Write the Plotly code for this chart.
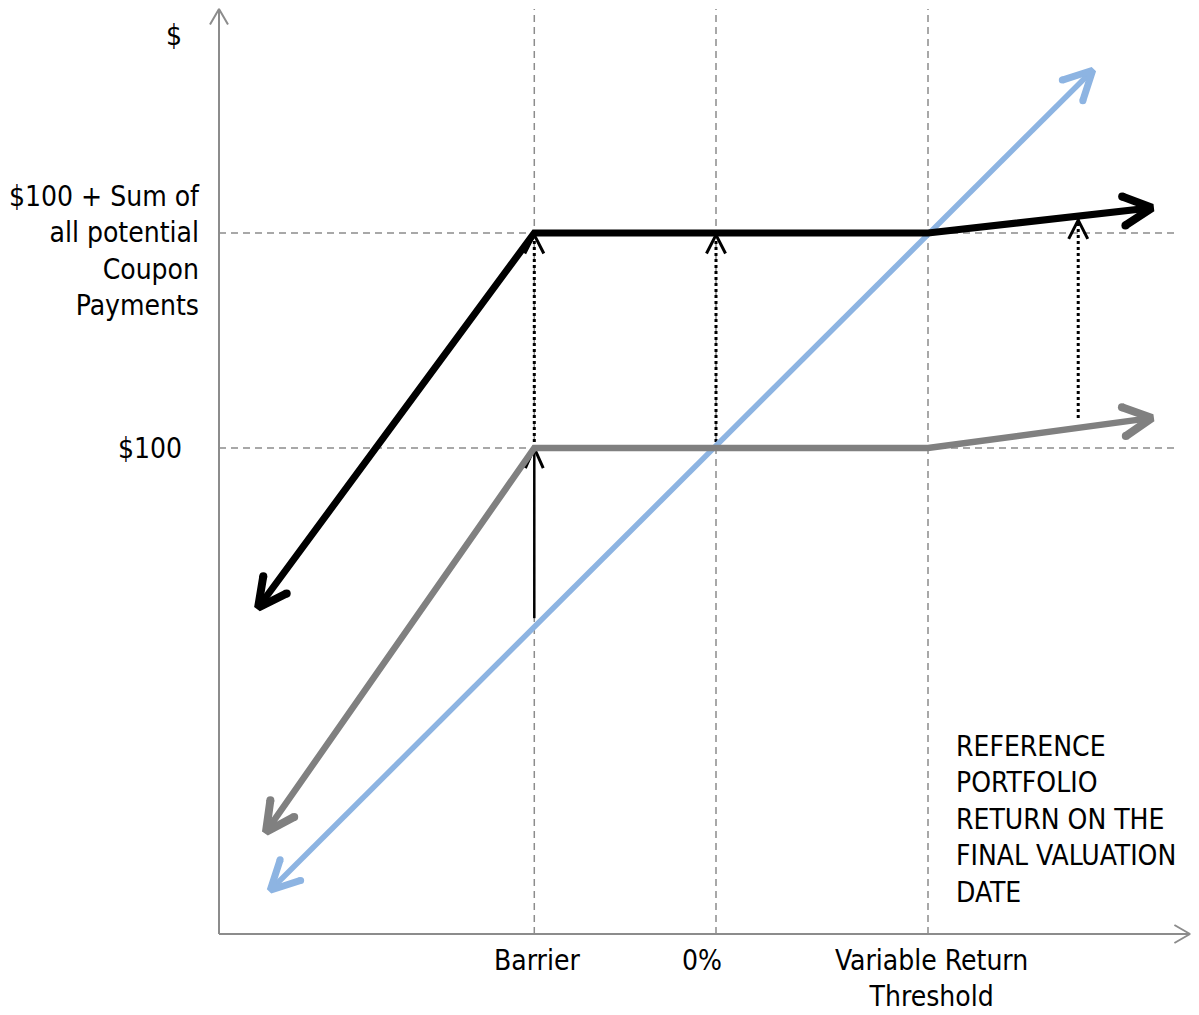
import math
import plotly.graph_objects as go

# ---------------- data (return in %, payoff in $) ----------------
barrier_pct = -30
zero_pct = 0
vrt_pct = 35
principal = 100
coupon_sum = 35

x_tick_vals = [barrier_pct, zero_pct, vrt_pct]
x_tick_text = ["Barrier", "0%", "Variable Return<br>Threshold"]
y_tick_vals = [principal, principal + coupon_sum]
y_tick_text = ["$100", "$100 + Sum of<br>all potential<br>Coupon<br>Payments"]

# Note payoff incl. all potential coupons (black)
note_x = [-75.6, -30, 35, 72.0]
note_y = [74.0, 135, 135, 139.1]
# Principal payoff (grey)
prin_x = [-74.3, -30, 35, 72.0]
prin_y = [37.5, 100, 100, 104.9]
# Reference portfolio (blue)
ref_x = [-73.6, 62.2]
ref_y = [28.0, 161.5]
# Coupon arrows (dotted): x, from, to
coup_x = [-30, 0, 59.8]
coup_from = [100, 100, 104.9]
coup_to = [135, 135, 137.4]
# Barrier protection arrow (solid thin)
bar_x = [-30]
bar_from = [72.3]
bar_to = [100]

right_label = "REFERENCE<br>PORTFOLIO<br>RETURN ON THE<br>FINAL VALUATION<br>DATE"

# ---------------- layout / scale helpers ----------------
W, H = 1199, 1015
XS = 212 / 35.0     # px per %
YS = 215 / 35.0     # px per $
X0 = 716            # pixel of 0%
Y100 = 448          # pixel of $100


def to_px(x, y):
    return X0 + x * XS, Y100 - (y - 100) * YS


def from_px(px, py):
    return (px - X0) / XS, 100 - (py - Y100) / YS


x_range = [from_px(0, 0)[0], from_px(W, 0)[0]]
y_range = [from_px(0, H)[1], from_px(0, 0)[1]]

ax_x0, ax_y0 = from_px(219, 934)      # axes origin
ax_x1, _ = from_px(1190, 934)
_, ax_y1 = from_px(219, 9)
grid_xend, _ = from_px(1175, 0)

BLACK = "#000000"
GREY = "#808080"
BLUE = "#8DB4E2"
AXIS = "#8C8C8C"
FONT = "DejaVu Sans Condensed, Liberation Sans Narrow, DejaVu Sans, sans-serif"
FS = 28

fig = go.Figure()


def line(xs, ys, color, width, dash="solid"):
    fig.add_trace(go.Scatter(x=xs, y=ys, mode="lines", hoverinfo="skip",
                             line=dict(color=color, width=width, dash=dash),
                             showlegend=False, cliponaxis=False))


def chevron(tip, prev, color, width, length, angle_deg, cap=False):
    tx, ty = to_px(*tip)
    qx, qy = to_px(*prev)
    d = math.hypot(qx - tx, qy - ty)
    ux, uy = (qx - tx) / d, (qy - ty) / d
    pts = []
    for s in (1, -1):
        a = math.radians(angle_deg) * s
        vx = ux * math.cos(a) - uy * math.sin(a)
        vy = ux * math.sin(a) + uy * math.cos(a)
        pts.append(from_px(tx + vx * length, ty + vy * length))
    xs = [pts[0][0], tip[0], pts[1][0]]
    ys = [pts[0][1], tip[1], pts[1][1]]
    line(xs, ys, color, width)
    if cap:
        # rounded ends of the arrowhead arms
        fig.add_trace(go.Scatter(x=[xs[0], xs[2]], y=[ys[0], ys[2]], mode="markers",
                                 hoverinfo="skip", showlegend=False, cliponaxis=False,
                                 marker=dict(color=color, size=width, line=dict(width=0))))


# grid (dashed)
for yv in y_tick_vals:
    line([ax_x0, grid_xend], [yv, yv], AXIS, 1.5, "7px,5px")
for xv in x_tick_vals:
    line([xv, xv], [ax_y0, ax_y1], AXIS, 1.5, "7px,5px")

# axes with open arrowheads
line([ax_x0, ax_x0], [ax_y0, ax_y1], AXIS, 2)
line([ax_x0, ax_x1], [ax_y0, ax_y0], AXIS, 2)
chevron((ax_x0, ax_y1), (ax_x0, ax_y0), AXIS, 2, 18, 30)
chevron((ax_x1, ax_y0), (ax_x0, ax_y0), AXIS, 2, 18, 30)

# coupon arrows (dotted)
for xv, y0, y1 in zip(coup_x, coup_from, coup_to):
    line([xv, xv], [y0, y1], BLACK, 3, "3px,3px")
    chevron((xv, y1 - 0.3), (xv, y0), BLACK, 3, 21, 27)

# barrier arrow (solid)
for xv, y0, y1 in zip(bar_x, bar_from, bar_to):
    line([xv, xv], [y0, y1], BLACK, 2.5)
    chevron((xv, y1), (xv, y0), BLACK, 3, 22, 24)

# payoff lines
line(ref_x, ref_y, BLUE, 5.5)
chevron((ref_x[0], ref_y[0]), (ref_x[1], ref_y[1]), BLUE, 7, 32, 27, cap=True)
chevron((ref_x[-1], ref_y[-1]), (ref_x[0], ref_y[0]), BLUE, 7, 32, 27, cap=True)

line(prin_x, prin_y, GREY, 6.5)
chevron((prin_x[0], prin_y[0]), (prin_x[1], prin_y[1]), GREY, 8, 32, 27, cap=True)
chevron((prin_x[-1], prin_y[-1]), (prin_x[-2], prin_y[-2]), GREY, 8, 32, 27, cap=True)

line(note_x, note_y, BLACK, 7)
chevron((note_x[0], note_y[0]), (note_x[1], note_y[1]), BLACK, 8, 32, 27, cap=True)
chevron((note_x[-1], note_y[-1]), (note_x[-2], note_y[-2]), BLACK, 8, 32, 27, cap=True)

# ---------------- text ----------------
ann = []


def text(x, y, s, xanchor="center", yanchor="middle", align="center"):
    ann.append(dict(x=x, y=y, xref="x", yref="y", text=s, showarrow=False,
                    xanchor=xanchor, yanchor=yanchor, align=align, borderpad=0,
                    font=dict(family=FONT, size=FS, color="#000000")))


# y labels
lx, _ = from_px(183, 0)
_, ly = from_px(0, 35)
text(lx, ly, "$", xanchor="right")
lx, _ = from_px(201, 0)
text(from_px(183, 0)[0], y_tick_vals[0], y_tick_text[0], xanchor="right", align="right")
_, ly = from_px(0, 179)
text(lx, ly, y_tick_text[1], xanchor="right", yanchor="top", align="right")

# x labels
_, ly = from_px(0, 943)
offsets = [3, -14, 3]
for xv, s, off in zip(x_tick_vals, x_tick_text, offsets):
    text(xv + off / XS, ly, s, yanchor="top")

# right label
lx, ly = from_px(955, 729)
text(lx, ly, right_label, xanchor="left", yanchor="top", align="left")

fig.update_layout(
    width=W, height=H, autosize=False,
    margin=dict(l=0, r=0, t=0, b=0),
    paper_bgcolor="white", plot_bgcolor="white",
    xaxis=dict(range=x_range, visible=False, fixedrange=True),
    yaxis=dict(range=y_range, visible=False, fixedrange=True),
    annotations=ann,
    showlegend=False,
)

fig.write_html("out.html", config={"displayModeBar": False},
               post_script="document.body.style.margin='0px';document.body.style.overflow='hidden';")
